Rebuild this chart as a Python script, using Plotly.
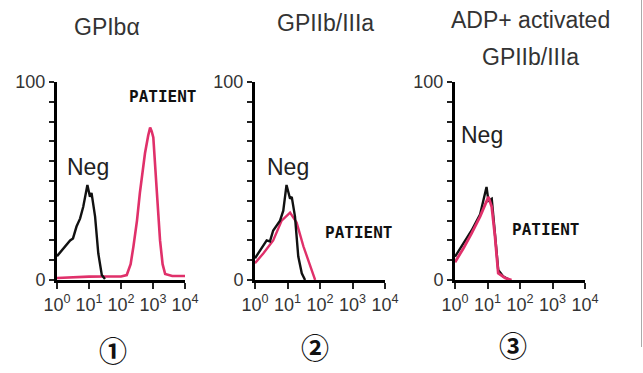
import plotly.graph_objects as go

# ---------------- data (fluorescence intensity, % of max) ----------------
p1_neg_x = [1, 1.58, 2.57, 3.16, 4.07, 5.25, 6.61, 8.91, 10.0, 10.7, 12.0, 13.2, 15.5, 19.5, 25.1, 31.6]
p1_neg_y = [12, 16, 20, 21, 27, 31, 37, 48, 44, 42, 44, 40, 32, 13.5, 2.5, 0.5]
p1_pat_x = [1, 3.16, 10, 31.6, 100, 151, 200, 245, 316, 389, 562, 708, 813, 912, 1023, 1288, 1660, 1995, 2399, 3981, 10000]
p1_pat_y = [1.0, 1.5, 1.7, 1.8, 1.8, 2.5, 8, 17, 30, 44, 64, 73, 77, 75, 72, 47, 20, 8, 3, 2, 2]

p2_neg_x = [1, 1.41, 2.29, 2.88, 3.63, 5.89, 7.41, 9.33, 10.7, 12.0, 13.5, 17.0, 21.4, 27.5, 34.7]
p2_neg_y = [11, 15, 20, 19.5, 25, 30, 35, 48, 44, 41, 42, 32, 12, 3.4, 0]
p2_pat_x = [1, 1.82, 3.63, 6.61, 12.0, 19.1, 30.9, 49.0, 70.8]
p2_pat_y = [8.5, 13.5, 20, 30, 34, 29, 17, 7, 0]

p3_neg_x = [1, 1.82, 3.24, 5.89, 9.33, 10.7, 13.5, 17.0, 21.4, 30.9, 49.0]
p3_neg_y = [11.8, 18.5, 25, 33, 47, 40, 41, 23, 5, 1.7, 0]
p3_pat_x = [1, 1.82, 3.24, 5.89, 10.7, 13.5, 17.0, 21.4, 34.7, 55.0]
p3_pat_y = [9, 16, 23.5, 32, 42, 37, 22, 3.4, 1, 0]

panel_titles = ["GPIbα", "GPIIb/IIIa", "ADP+ activated", "GPIIb/IIIa"]
panel_numbers = ["①", "②", "③"]
x_tickvals = [1, 10, 100, 1000, 10000]
x_ticktext = ["10<sup>0</sup>", "10<sup>1</sup>", "10<sup>2</sup>", "10<sup>3</sup>", "10<sup>4</sup>"]
y_tickvals = [0, 100]
y_ticktext = ["0", "100"]
y_minor_vals = [10, 20, 30, 40, 50, 60, 70, 80, 90]

# ---------------- layout helpers ----------------
W, H = 643, 373
def px(x):
    return x / W
def py(y):
    return 1 - y / H

RED = "#e0306a"
BLACK = "#111111"

fig = go.Figure()

series = [
    (p1_pat_x, p1_pat_y, RED, 2.6), (p1_neg_x, p1_neg_y, BLACK, 2.4),
    (p2_pat_x, p2_pat_y, RED, 2.4), (p2_neg_x, p2_neg_y, BLACK, 2.4),
    (p3_neg_x, p3_neg_y, BLACK, 2.4), (p3_pat_x, p3_pat_y, RED, 2.8),
]
axis_of = [1, 1, 2, 2, 3, 3]
for (xs, ys, col, w), a in zip(series, axis_of):
    sfx = "" if a == 1 else str(a)
    fig.add_trace(go.Scatter(x=xs, y=ys, mode="lines", line=dict(color=col, width=w),
                             xaxis="x" + sfx, yaxis="y" + sfx, showlegend=False, hoverinfo="skip"))

domains_px = [(57, 185), (255, 385), (455, 585)]
ydom = [py(280), py(82)]
tickfont = dict(family="Liberation Sans, Arial, sans-serif", size=18, color="#333333")
for i, (a, b) in enumerate(domains_px, start=1):
    sfx = "" if i == 1 else str(i)
    fig.update_layout(**{
        "xaxis" + sfx: dict(type="log", range=[0, 4], domain=[px(a), px(b)], anchor="y" + sfx,
                            tickvals=x_tickvals, ticktext=x_ticktext, ticks="outside", ticklen=6,
                            tickwidth=1.5, tickcolor="#222", showline=True, linewidth=3, linecolor="black",
                            showgrid=False, zeroline=False, tickfont=tickfont, fixedrange=True,
                            automargin=False),
        "yaxis" + sfx: dict(range=[0, 100], domain=ydom, anchor="x" + sfx,
                            tickvals=y_tickvals, ticktext=y_ticktext, ticks="outside", ticklen=5,
                            tickwidth=1.5, tickcolor="#222", showline=True, linewidth=3, linecolor="black",
                            showgrid=False, zeroline=False, tickfont=tickfont, fixedrange=True,
                            automargin=False,
                            minor=dict(tickvals=y_minor_vals, ticks="outside", ticklen=5,
                                       tickwidth=1.5, tickcolor="#222", showgrid=False)),
    })

ann = []
title_font = dict(family="Liberation Sans, Arial, sans-serif", size=23, color="#333333")
ann.append(dict(x=px(107), y=py(27), text=panel_titles[0], font=title_font))
ann.append(dict(x=px(325), y=py(23), text=panel_titles[1], font=title_font))
ann.append(dict(x=px(530), y=py(20), text=panel_titles[2], font=title_font))
ann.append(dict(x=px(530), y=py(57), text=panel_titles[3], font=title_font))

pat_font = dict(family="DejaVu Sans Mono, monospace", size=16, color="#111111")
for (x, y) in [(162, 97), (358, 232), (545, 229)]:
    ann.append(dict(x=px(x), y=py(y), text="<b>PATIENT</b>", font=pat_font))

neg_font = dict(family="Liberation Sans, Arial, sans-serif", size=23, color="#222222")
for (x, y) in [(88, 167), (288, 167), (482, 135)]:
    ann.append(dict(x=px(x), y=py(y), text="Neg", font=neg_font))

num_font = dict(family="Noto Sans CJK SC, DejaVu Sans, serif", size=28, color="#111111")
for t, (x, y) in zip(panel_numbers, [(113, 350), (315, 347), (513, 345)]):
    ann.append(dict(x=px(x), y=py(y), text="<b>" + t + "</b>", font=num_font))

for d in ann:
    d.update(xref="paper", yref="paper", showarrow=False, xanchor="center", yanchor="middle")

fig.update_layout(
    width=W, height=H, autosize=False,
    margin=dict(l=0, r=0, t=0, b=0, pad=0),
    paper_bgcolor="white", plot_bgcolor="rgba(0,0,0,0)",
    annotations=ann,
    shapes=[dict(type="line", xref="paper", yref="paper", x0=px(641.5), x1=px(641.5),
                 y0=py(347), y1=1, line=dict(color="#aaaaaa", width=1))],
)

fig.write_html("out.html", config={"displayModeBar": False},
               post_script="document.body.style.margin='0px';document.body.style.overflow='hidden';")
